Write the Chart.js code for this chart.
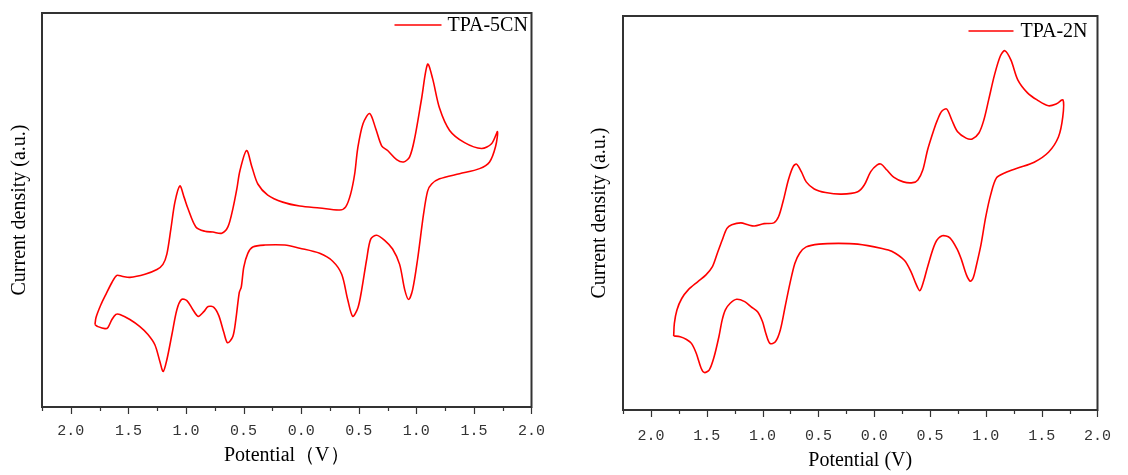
<!DOCTYPE html>
<html>
<head>
<meta charset="utf-8">
<title>CV - TPA-5CN / TPA-2N</title>
<script src="https://cdn.jsdelivr.net/npm/chart.js@4.4.1/dist/chart.umd.min.js"></script>
<style>
  html, body { margin: 0; padding: 0; background: #fff; }
  #wrap { position: relative; width: 1128px; height: 475px; }
  canvas { position: absolute; top: 0; }
  #cvLeft { left: 0; }
  #cvRight { left: 580px; }
</style>
</head>
<body>
<div id="wrap">
  <canvas id="cvLeft" width="560" height="475"></canvas>
  <canvas id="cvRight" width="548" height="475"></canvas>
</div>
<script>
// TPA-5CN: one closed CV loop, forward scan then back (V, a.u.)
const cn5Potential = [
  -1.790, -1.781, -1.738, -1.695, -1.643, -1.600, -1.556, -1.487, -1.356, -1.252,
  -1.200, -1.166, -1.131, -1.096, -1.053, -1.016, -0.982, -0.914, -0.836, -0.766,
  -0.689, -0.636, -0.593, -0.558, -0.532, -0.474, -0.428, -0.376, -0.290, -0.160,
  -0.012, 0.161, 0.335, 0.387, 0.430, 0.465, 0.491, 0.537, 0.595, 0.647,
  0.699, 0.751, 0.829, 0.890, 0.942, 0.985, 1.046, 1.098, 1.141, 1.202,
  1.289, 1.419, 1.566, 1.653, 1.705,
  1.688, 1.636, 1.549, 1.375, 1.202, 1.133, 1.098, 1.063, 1.011, 0.968,
  0.933, 0.899, 0.855, 0.794, 0.725, 0.656, 0.604, 0.569, 0.526, 0.493,
  0.448, 0.404, 0.352, 0.274, 0.161, -0.012, -0.142, -0.316, -0.420, -0.463,
  -0.498, -0.520, -0.537, -0.567, -0.593, -0.639, -0.671, -0.715, -0.758, -0.807,
  -0.845, -0.894, -0.940, -0.992, -1.038, -1.079, -1.122, -1.166, -1.198, -1.226,
  -1.270, -1.330, -1.400, -1.487, -1.574, -1.608, -1.643, -1.677, -1.703, -1.764,
  -1.790
];
const cn5Current = [
  20.9, 22.7, 26.0, 28.6, 31.6, 33.4, 33.2, 32.9, 33.7, 34.9,
  36.2, 38.8, 45.2, 52.0, 56.1, 53.2, 50.3, 45.7, 44.6, 44.4,
  44.1, 45.7, 50.3, 55.4, 59.9, 65.1, 61.0, 56.6, 53.8, 52.0,
  51.0, 50.5, 50.0, 50.8, 54.1, 59.2, 65.6, 71.9, 74.5, 70.7,
  66.3, 65.1, 62.8, 62.2, 63.5, 68.1, 78.3, 87.0, 83.4, 75.8,
  70.2, 67.1, 65.6, 66.8, 69.9,
  66.1, 62.2, 60.5, 59.2, 57.9, 56.6, 54.8, 49.0, 37.5, 29.8,
  27.3, 29.8, 36.2, 40.1, 42.3, 43.6, 42.6, 37.5, 29.8, 25.2,
  23.0, 27.3, 33.7, 37.0, 39.0, 40.3, 41.1, 41.1, 40.6, 39.0,
  35.5, 30.4, 29.1, 22.2, 17.9, 16.3, 18.9, 23.2, 25.3, 25.5,
  24.2, 23.0, 24.7, 27.0, 27.3, 24.7, 18.4, 12.0, 9.0, 11.5,
  15.8, 18.4, 20.4, 22.2, 23.5, 23.5, 22.2, 20.2, 19.9, 20.4,
  20.9
];

// TPA-2N
const n2Potential = [
  -1.796, -1.790, -1.767, -1.724, -1.666, -1.579, -1.507, -1.449, -1.405, -1.362,
  -1.319, -1.276, -1.194, -1.130, -1.073, -0.986, -0.899, -0.856, -0.813, -0.769,
  -0.726, -0.696, -0.653, -0.609, -0.537, -0.436, -0.292, -0.147, -0.089, -0.031,
  0.027, 0.062, 0.114, 0.174, 0.261, 0.345, 0.391, 0.435, 0.478, 0.533,
  0.565, 0.605, 0.649, 0.695, 0.747, 0.823, 0.878, 0.938, 0.982, 1.025, 1.077,
  1.129, 1.170, 1.225, 1.286, 1.373, 1.459, 1.561, 1.633, 1.691,
  1.689, 1.650, 1.563, 1.433, 1.286, 1.173, 1.095, 1.043, 0.999, 0.956,
  0.912, 0.886, 0.860, 0.826, 0.782, 0.747, 0.678, 0.609, 0.548, 0.478,
  0.444, 0.409, 0.374, 0.331, 0.270, 0.157, 0.070, -0.147, -0.320, -0.494,
  -0.609, -0.668, -0.711, -0.754, -0.798, -0.841, -0.885, -0.934, -0.971, -1.000,
  -1.043, -1.102, -1.160, -1.232, -1.290, -1.333, -1.362, -1.391, -1.434, -1.477,
  -1.521, -1.550, -1.594, -1.637, -1.681, -1.738, -1.796
];
const n2Current = [
  18.8, 22.0, 25.4, 28.3, 30.5, 32.6, 34.3, 36.4, 39.8, 43.1,
  46.1, 47.0, 47.5, 47.0, 46.7, 47.3, 47.5, 49.1, 53.3, 58.4,
  61.8, 62.4, 60.5, 57.9, 56.1, 55.2, 54.8, 55.4, 57.1, 60.5,
  62.2, 62.4, 60.9, 59.1, 57.9, 57.7, 58.4, 60.9, 66.0, 71.0,
  73.5, 75.8, 76.4, 73.6, 70.6, 69.0, 68.8, 70.3, 73.6, 78.7, 85.0,
  89.8, 91.2, 88.8, 83.8, 80.5, 78.7, 77.2, 77.7, 78.7,
  74.4, 69.3, 65.5, 62.9, 61.4, 60.2, 58.9, 54.6, 49.0, 41.9,
  36.3, 33.5, 32.7, 34.3, 38.1, 40.6, 43.7, 44.2, 42.4, 36.3,
  32.8, 30.3, 32.0, 35.0, 38.0, 40.3, 41.0, 42.1, 42.3, 42.1,
  41.4, 39.8, 37.2, 32.2, 26.2, 20.3, 17.3, 16.9, 19.5, 22.4,
  24.9, 26.2, 27.5, 28.1, 27.1, 25.4, 22.8, 18.6, 13.5, 10.2,
  9.5, 10.6, 14.4, 16.9, 17.9, 18.6, 18.8
];

// x axis ticks (minus signs are not shown in the original labels)
const xMajorTicks = [-2, -1.5, -1, -0.5, 0, 0.5, 1, 1.5, 2];
const xMinorTicks = [-2.25, -1.75, -1.25, -0.75, -0.25, 0.25, 0.75, 1.25, 1.75];

function toPoints(xs, ys) {
  return xs.map((x, i) => ({ x: x, y: ys[i] }));
}

// box around the plot, tick marks, and the little legend inside the frame
const frameAndLegend = {
  id: 'frameAndLegend',
  afterDatasetsDraw(chart, args, opts) {
    const { ctx, chartArea: a } = chart;
    const xs = chart.scales.x;
    ctx.save();
    ctx.strokeStyle = '#333';
    ctx.lineWidth = 2;
    ctx.strokeRect(a.left, a.top, a.right - a.left, a.bottom - a.top);

    ctx.lineWidth = 1.2;
    ctx.beginPath();
    xMajorTicks.forEach(v => {
      const px = Math.round(xs.getPixelForValue(v)) + 0.5;
      ctx.moveTo(px, a.bottom);
      ctx.lineTo(px, a.bottom + 7);
    });
    xMinorTicks.forEach(v => {
      const px = Math.round(xs.getPixelForValue(v)) + 0.5;
      ctx.moveTo(px, a.bottom);
      ctx.lineTo(px, a.bottom + 4);
    });
    ctx.stroke();

    const ds = chart.data.datasets[0];
    const ly = a.top + opts.dy;
    ctx.strokeStyle = ds.borderColor;
    ctx.lineWidth = 1.5;
    ctx.beginPath();
    ctx.moveTo(a.right - opts.lineFrom, ly);
    ctx.lineTo(a.right - opts.lineTo, ly);
    ctx.stroke();
    ctx.fillStyle = '#000';
    ctx.font = '20px "Liberation Serif", "Times New Roman", serif';
    ctx.textAlign = 'left';
    ctx.textBaseline = 'middle';
    ctx.fillText(ds.label, a.right - opts.textFrom, ly + 1);
    ctx.restore();
  }
};

function makeChart(canvasId, label, xs, ys, lay) {
  return new Chart(document.getElementById(canvasId), {
    type: 'scatter',
    data: {
      datasets: [{
        label: label,
        data: toPoints(xs, ys),
        showLine: true,
        borderColor: '#ff0000',
        borderWidth: 1.6,
        pointRadius: 0,
        tension: 0.3,
        fill: false
      }]
    },
    options: {
      responsive: false,
      animation: false,
      devicePixelRatio: 1,
      layout: { padding: { left: 0, right: lay.right, top: lay.top, bottom: 0 } },
      plugins: {
        legend: { display: false },
        tooltip: { enabled: false },
        frameAndLegend: lay.legend
      },
      scales: {
        x: {
          type: 'linear',
          min: -2.25,
          max: 2.0,
          afterBuildTicks: s => { s.ticks = xMajorTicks.map(v => ({ value: v })); },
          afterFit: s => { s.height = lay.xHeight; },
          grid: { display: false, drawTicks: false },
          border: { display: false },
          ticks: {
            autoSkip: false,
            maxRotation: 0,
            padding: lay.tickPad,
            color: '#333',
            font: { family: '"Liberation Mono", monospace', size: 15 },
            callback: v => Math.abs(v).toFixed(1)
          },
          title: {
            display: true,
            text: lay.xTitle,
            color: '#000',
            font: { family: '"Liberation Serif", "Times New Roman", serif', size: 20 },
            padding: { top: 0, bottom: lay.titlePad }
          }
        },
        y: {
          type: 'linear',
          min: 0,
          max: 100,
          afterFit: s => { s.width = lay.yWidth; },
          grid: { display: false, drawTicks: false },
          border: { display: false },
          ticks: { display: false },
          title: {
            display: true,
            text: 'Current density (a.u.)',
            color: '#000',
            font: { family: '"Liberation Serif", "Times New Roman", serif', size: 20 },
            padding: { top: 8, bottom: 0 }
          }
        }
      }
    },
    plugins: [frameAndLegend]
  });
}

makeChart('cvLeft', 'TPA-5CN', cn5Potential, cn5Current, {
  right: 28, top: 13, xHeight: 68, yWidth: 42, tickPad: 15, titlePad: 7,
  xTitle: 'Potential（V）',
  legend: { dy: 12, lineFrom: 137, lineTo: 90, textFrom: 84 }
});

makeChart('cvRight', 'TPA-2N', n2Potential, n2Current, {
  right: 16, top: 16, xHeight: 65, yWidth: 43, tickPad: 17, titlePad: 2,
  xTitle: 'Potential (V)',
  legend: { dy: 15, lineFrom: 129, lineTo: 84, textFrom: 77 }
});
</script>
</body>
</html>
